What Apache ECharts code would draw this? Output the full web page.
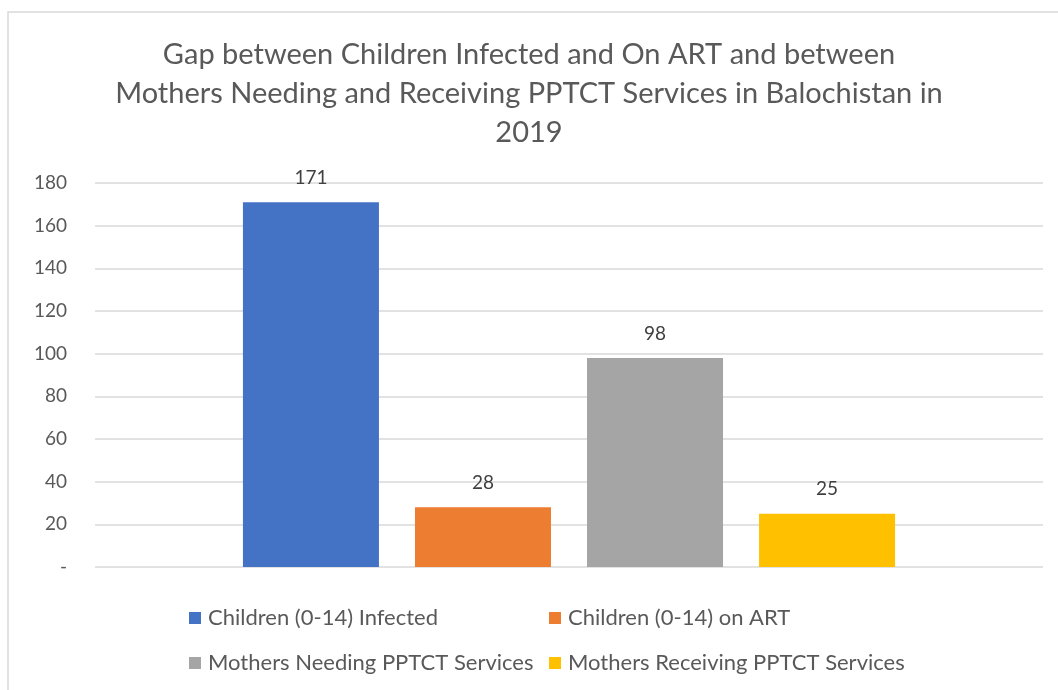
<!DOCTYPE html>
<html>
<head>
<meta charset="utf-8">
<script src="https://cdn.jsdelivr.net/npm/echarts@6/dist/echarts.min.js"></script>
<style>
  html, body { margin: 0; padding: 0; background: #fff; }
  #chart { width: 1058px; height: 690px; }
</style>
</head>
<body>
<div id="chart"></div>
<script>
// Balochistan 2019: children infected vs on ART, mothers needing vs receiving PPTCT
const titleText = 'Gap between Children Infected and On ART and between\nMothers Needing and Receiving PPTCT Services in Balochistan in\n2019';
const categories = ['2019'];
const seriesNames = [
  'Children (0-14) Infected',
  'Children (0-14) on ART',
  'Mothers Needing PPTCT Services',
  'Mothers Receiving PPTCT Services'
];
const seriesValues = [171, 28, 98, 25];
const seriesColors = ['#4472C4', '#ED7D31', '#A5A5A5', '#FFC000'];
const yTicks = [0, 20, 40, 60, 80, 100, 120, 140, 160, 180];

const FONT = 'Lato';
const TEXT = '#595959';

const chart = echarts.init(document.getElementById('chart'), null, { renderer: 'canvas' });

// legend entries laid out as a 2x2 block
const legendSpots = [
  { left: 189, top: 607 },
  { left: 549, top: 607 },
  { left: 189, top: 652 },
  { left: 549, top: 652 }
];

const option = {
  animation: false,
  backgroundColor: '#fff',
  textStyle: { fontFamily: FONT },
  title: {
    text: titleText,
    left: 'center',
    top: 30,
    textStyle: { fontFamily: FONT, fontSize: 29, fontWeight: 'normal', color: TEXT, lineHeight: 39 }
  },
  graphic: [{
    type: 'rect',
    shape: { x: 8, y: 12, width: 1070, height: 700 },
    style: { fill: 'none', stroke: '#d9d9d9', lineWidth: 1.5 },
    silent: true
  }],
  legend: seriesNames.map((n, i) => ({
    data: [n],
    left: legendSpots[i].left,
    top: legendSpots[i].top,
    icon: 'rect',
    itemWidth: 12,
    itemHeight: 12,
    itemGap: 0,
    padding: 0,
    selectedMode: false,
    textStyle: { fontFamily: FONT, fontSize: 22, color: TEXT, padding: [0, 0, 0, 2] }
  })),
  grid: { left: 95, right: 15, top: 183, bottom: 123, containLabel: false },
  xAxis: {
    type: 'category',
    data: categories,
    axisLine: { show: false },
    axisTick: { show: false },
    axisLabel: { show: false }
  },
  yAxis: {
    type: 'value',
    min: yTicks[0],
    max: yTicks[yTicks.length - 1],
    interval: yTicks[1] - yTicks[0],
    axisLine: { show: false },
    axisTick: { show: false },
    splitLine: { lineStyle: { color: '#d9d9d9', width: 1.5 } },
    axisLabel: {
      margin: 28,
      fontFamily: FONT,
      fontSize: 19,
      color: TEXT,
      formatter: v => (v === 0 ? '-' : String(v))
    }
  },
  series: seriesNames.map((n, i) => ({
    name: n,
    type: 'bar',
    data: [seriesValues[i]],
    barWidth: 136,
    barGap: '26.5%',
    itemStyle: { color: seriesColors[i] },
    label: {
      show: true,
      position: 'top',
      distance: 15,
      fontFamily: FONT,
      fontSize: 19,
      color: '#404040'
    }
  }))
};

chart.setOption(option);
</script>
</body>
</html>
